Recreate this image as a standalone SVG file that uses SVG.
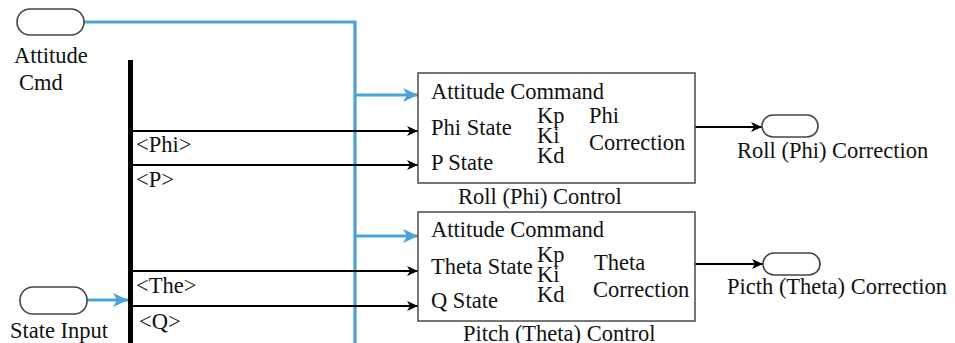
<svg xmlns="http://www.w3.org/2000/svg" width="955" height="343" viewBox="0 0 955 343">
<style>
text{font-family:"Liberation Serif","Times New Roman",serif;font-size:22.5px;fill:#111}
.port{fill:#fff;stroke:#444;stroke-width:1.6}
.blk{fill:#fff;stroke:#555;stroke-width:1.6}
.blue{fill:none;stroke:#4aa3d4;stroke-width:3.2}
.sig{fill:none;stroke:#000;stroke-width:2}
</style>
<defs>
<marker id="ab" markerUnits="userSpaceOnUse" markerWidth="16" markerHeight="14" refX="15" refY="7" orient="auto"><path d="M0,0 L15,7 L0,14 L4,7 Z" fill="#4aa3d4"/></marker>
<marker id="ak" markerUnits="userSpaceOnUse" markerWidth="12" markerHeight="10" refX="11" refY="5" orient="auto"><path d="M0,0 L11,5 L0,10 L3,5 Z" fill="#000"/></marker>
</defs>
<g id="connectors">
<path class="blue" d="M84,22 H355 V343"/>
<path class="blue" d="M355,95 H418" marker-end="url(#ab)"/>
<path class="blue" d="M355,236 H418" marker-end="url(#ab)"/>
<path class="blue" d="M87,300 H128" marker-end="url(#ab)"/>
<path class="sig" d="M133,131 H418" marker-end="url(#ak)"/>
<path class="sig" d="M133,165 H418" marker-end="url(#ak)"/>
<path class="sig" d="M133,271 H418" marker-end="url(#ak)"/>
<path class="sig" d="M133,306 H418" marker-end="url(#ak)"/>
<path class="sig" d="M695,127 H762" marker-end="url(#ak)"/>
<path class="sig" d="M695,264 H763" marker-end="url(#ak)"/>
<text x="136" y="152">&lt;Phi&gt;</text>
<text x="136" y="187">&lt;P&gt;</text>
<text x="136" y="293">&lt;The&gt;</text>
<text x="139" y="329">&lt;Q&gt;</text>
</g>
<g id="attitude-cmd">
<rect class="port" x="17" y="9" width="67" height="26" rx="13"/>
<text x="14" y="63">Attitude</text>
<text x="19" y="90">Cmd</text>
</g>
<g id="state-input">
<rect class="port" x="20" y="287" width="67" height="27" rx="13"/>
<text x="10" y="338">State Input</text>
</g>
<g id="bus">
<rect x="128" y="60" width="5" height="283" fill="#000"/>
</g>
<g id="roll-control">
<rect class="blk" x="418" y="73" width="277" height="110"/>
<text x="431" y="99">Attitude Command</text>
<text x="431" y="135">Phi State</text>
<text x="431" y="170">P State</text>
<text x="537" y="123">Kp</text>
<text x="537" y="143">Ki</text>
<text x="537" y="163">Kd</text>
<text x="589" y="123">Phi</text>
<text x="589" y="150">Correction</text>
<text x="458" y="204">Roll (Phi) Control</text>
</g>
<g id="pitch-control">
<rect class="blk" x="418" y="212" width="277" height="109"/>
<text x="431" y="237">Attitude Command</text>
<text x="431" y="274">Theta State</text>
<text x="431" y="308">Q State</text>
<text x="537" y="262">Kp</text>
<text x="537" y="282">Ki</text>
<text x="537" y="302">Kd</text>
<text x="594" y="270">Theta</text>
<text x="593" y="297">Correction</text>
<text x="463" y="341">Pitch (Theta) Control</text>
</g>
<g id="roll-out">
<rect class="port" x="762" y="115" width="56" height="22" rx="11"/>
<text x="737" y="158">Roll (Phi) Correction</text>
</g>
<g id="pitch-out">
<rect class="port" x="763" y="253" width="57" height="22" rx="11"/>
<text x="727" y="294">Picth (Theta) Correction</text>
</g>
</svg>
